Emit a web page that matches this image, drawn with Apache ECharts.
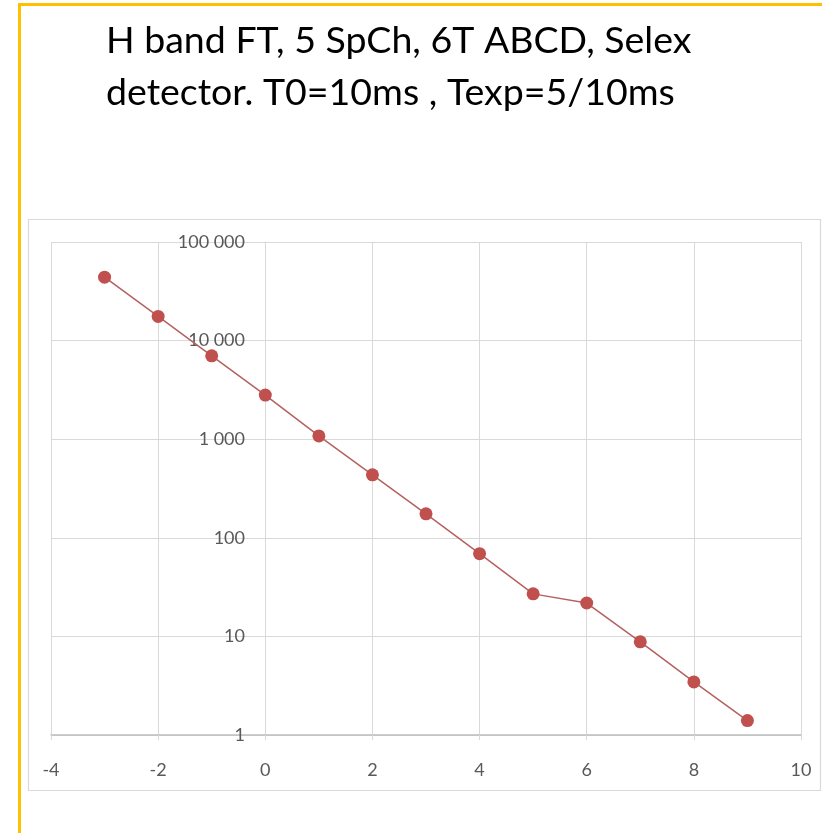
<!DOCTYPE html>
<html>
<head>
<meta charset="utf-8">
<style>
html, body { margin: 0; padding: 0; background: #ffffff; }
#chart { width: 822px; height: 833px; }
</style>
<script src="https://cdn.jsdelivr.net/npm/echarts@6/dist/echarts.min.js"></script>
</head>
<body>
<div id="chart"></div>
<script>
// ---- data ----
const titleLines = ['H band FT, 5 SpCh, 6T ABCD, Selex', 'detector. T0=10ms , Texp=5/10ms'];
const xValues = [-3, -2, -1, 0, 1, 2, 3, 4, 5, 6, 7, 8, 9];
const yValues = [44000, 17600, 7000, 2800, 1080, 435, 175, 69, 27, 21.8, 8.8, 3.45, 1.40];
const xTicks = { min: -4, max: 10, interval: 2 };
const yTicks = { min: 1, max: 100000 };

const seriesData = xValues.map((x, i) => [x, yValues[i]]);

const chart = echarts.init(document.getElementById('chart'), null, { renderer: 'canvas' });
const labelFont = 'Lato';
chart.setOption({
  animation: false,
  backgroundColor: '#ffffff',
  title: {
    text: titleLines.join('\n'),
    left: 106,
    top: 15,
    padding: 0,
    textStyle: {
      fontFamily: 'Lato',
      fontWeight: 'normal',
      fontSize: 37.5,
      lineHeight: 52,
      color: '#000000'
    }
  },
  graphic: [
    {
      type: 'rect',
      silent: true,
      shape: { x: 19.5, y: 4.5, width: 900, height: 900 },
      style: { fill: 'none', stroke: '#FFC000', lineWidth: 3 },
      z: -10
    },
    {
      type: 'rect',
      silent: true,
      shape: { x: 28.5, y: 219.5, width: 792, height: 571 },
      style: { fill: '#ffffff', stroke: '#d9d9d9', lineWidth: 1.2 },
      z: -9
    }
  ],
  grid: {
    left: 51,
    top: 242,
    width: 750,
    height: 493,
    containLabel: false,
    outerBoundsMode: 'none'
  },
  xAxis: {
    type: 'value',
    min: xTicks.min,
    max: xTicks.max,
    interval: xTicks.interval,
    axisLine: { show: true, onZero: false, lineStyle: { color: '#bfbfbf', width: 1.5 } },
    axisTick: { show: true, length: 5, lineStyle: { color: '#d9d9d9' } },
    axisLabel: { color: '#595959', fontFamily: labelFont, fontSize: 18, margin: 26 },
    splitLine: { show: true, lineStyle: { color: '#d9d9d9', width: 1 } }
  },
  yAxis: {
    type: 'log',
    logBase: 10,
    min: yTicks.min,
    max: yTicks.max,
    offset: -214,
    axisLine: { show: true, onZero: true, lineStyle: { color: '#d9d9d9', width: 1 } },
    axisTick: { show: false },
    axisLabel: {
      color: '#595959',
      fontFamily: labelFont,
      fontSize: 18,
      margin: 20,
      formatter: function (v) {
        return Math.round(v).toString().replace(/\B(?=(\d{3})+(?!\d))/g, ' ');
      }
    },
    splitLine: { show: true, lineStyle: { color: '#d9d9d9', width: 1 } }
  },
  series: [{
    type: 'line',
    data: seriesData,
    symbol: 'circle',
    symbolSize: 13,
    showSymbol: true,
    itemStyle: { color: '#C0504D' },
    lineStyle: { color: '#b5615f', width: 1.5 },
    z: 5
  }]
});
</script>
</body>
</html>
